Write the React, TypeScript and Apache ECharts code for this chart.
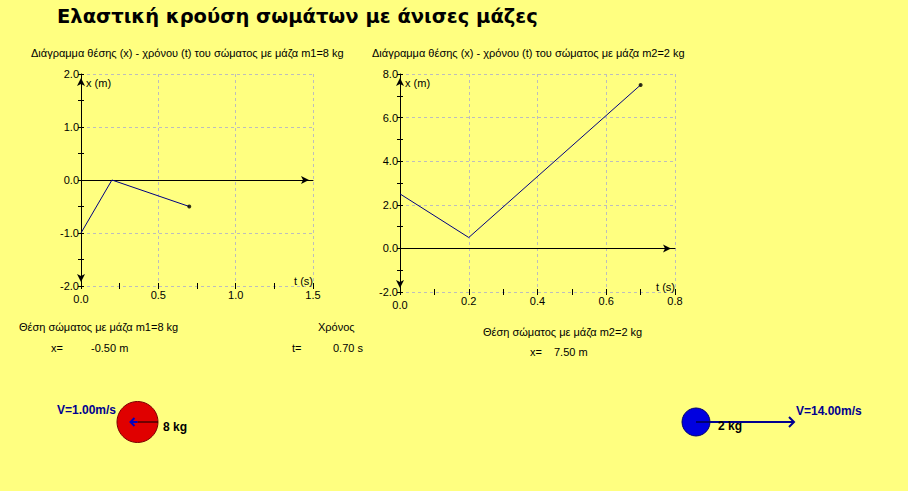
import React, { useEffect, useRef } from 'react';
import * as echarts from 'echarts';

// ---- data ----
const mainTitle = 'Ελαστική κρούση σωμάτων με άνισες μάζες';
const leftTitle = 'Διάγραμμα θέσης (x) - χρόνου (t) του σώματος με μάζα m1=8 kg';
const rightTitle = 'Διάγραμμα θέσης (x) - χρόνου (t) του σώματος με μάζα m2=2 kg';

const tLeft = [0, 0.2, 0.7];
const xLeft = [-1.0, 0.0, -0.5];
const tRight = [0, 0.2, 0.7];
const xRight = [2.5, 0.5, 7.5];

const leftXRange = [0, 1.5];
const leftXSteps = [0.5, 0.25];
const leftYRange = [-2, 2];
const leftYSteps = [1, 0.5];
const rightXRange = [0, 0.8];
const rightXSteps = [0.2, 0.1];
const rightYRange = [-2, 8];
const rightYSteps = [2, 1];

const m1 = 8;
const m2 = 2;
const v1 = -1.0;
const v2 = 14.0;
const pos1 = -0.5;
const pos2 = 7.5;
const tNow = 0.7;

const FONT = "'Liberation Sans', Arial, sans-serif";
const GRID_COLOR = '#bdbdbd';
const LINE_COLOR = '#000080';
const BG = '#FFFF80';

function xAxes(gridIndex: number, range: number[], steps: number[], yIdx: number) {
  const base = { gridIndex, type: 'value', position: 'bottom', min: range[0], max: range[1] };
  return [
    {
      ...base,
      interval: steps[0],
      axisLine: { show: false, onZero: false },
      axisTick: { show: false },
      axisLabel: {
        show: true,
        margin: 3,
        color: '#000',
        fontSize: 11,
        fontFamily: FONT,
        formatter: (v: number) => (Math.abs(v) < 1e-9 ? '{z|' + v.toFixed(1) + '}' : v.toFixed(1)),
        rich: { z: { fontSize: 11, fontFamily: FONT, color: '#000', padding: [4, 0, 0, 0] } },
      },
      splitLine: { show: true, lineStyle: { color: GRID_COLOR, type: [3, 3], width: 1 } },
    },
    {
      ...base,
      interval: steps[1],
      axisLine: { show: false, onZero: false },
      axisTick: { show: true, inside: false, length: 3, lineStyle: { color: '#000', width: 1 } },
      axisLabel: { show: false },
      splitLine: { show: false },
    },
    {
      ...base,
      interval: steps[1],
      axisLine: { show: false, onZero: false },
      axisTick: { show: true, inside: true, length: 3, lineStyle: { color: '#000', width: 1 } },
      axisLabel: { show: false },
      splitLine: { show: false },
    },
    {
      ...base,
      interval: steps[0],
      axisLine: {
        show: true,
        onZero: true,
        onZeroAxisIndex: yIdx,
        symbol: ['none', 'arrow'],
        symbolSize: [6, 8],
        symbolOffset: [0, -4],
        lineStyle: { color: '#000', width: 1 },
      },
      axisTick: { show: false },
      axisLabel: { show: false },
      splitLine: { show: false },
    },
  ];
}

function yAxes(gridIndex: number, range: number[], steps: number[]) {
  const base = { gridIndex, type: 'value', position: 'left', offset: 0, min: range[0], max: range[1] };
  return [
    {
      ...base,
      interval: steps[0],
      axisLine: {
        show: true,
        onZero: false,
        symbol: ['arrow', 'arrow'],
        symbolSize: [6, 8],
        symbolOffset: [4, -4],
        lineStyle: { color: '#000', width: 1 },
      },
      axisTick: { show: false },
      axisLabel: { show: true, margin: 2, color: '#000', fontSize: 11, fontFamily: FONT, formatter: (v: number) => v.toFixed(1) },
      splitLine: { show: true, lineStyle: { color: GRID_COLOR, type: [3, 3], width: 1 } },
    },
    {
      ...base,
      interval: steps[1],
      axisLine: { show: false, onZero: false },
      axisTick: { show: true, inside: false, length: 3, lineStyle: { color: '#000', width: 1 } },
      axisLabel: { show: false },
      splitLine: { show: false },
    },
    {
      ...base,
      interval: steps[1],
      axisLine: { show: false, onZero: false },
      axisTick: { show: true, inside: true, length: 3, lineStyle: { color: '#000', width: 1 } },
      axisLabel: { show: false },
      splitLine: { show: false },
    },
  ];
}

function txt(x: number, y: number, text: string, opts: any = {}) {
  return {
    type: 'text',
    x,
    y,
    z: 10,
    style: {
      text,
      fill: opts.fill || '#000',
      fontSize: opts.fontSize || 11,
      fontFamily: opts.fontFamily || FONT,
      fontWeight: opts.fontWeight || 'normal',
      align: opts.align || 'left',
      verticalAlign: 'middle',
    },
  };
}

export default function App() {
  const ref = useRef<HTMLDivElement>(null);
  useEffect(() => {
    if (!ref.current) return;
    const chart = echarts.init(ref.current, undefined, { renderer: 'svg' });

    const PX = 7; // pixels per m/s for velocity arrows
    const c1 = { x: 137.5, y: 422, r: 20.5 };
    const c2 = { x: 696, y: 422, r: 14 };
    const a1End = c1.x + v1 * PX;
    const a2End = c2.x + v2 * PX;

    const graphic: any[] = [
      txt(57, 16, mainTitle, { fontSize: 19.5, fontWeight: 'bold', fontFamily: "'DejaVu Sans', sans-serif" }),
      txt(31, 53, leftTitle),
      txt(372, 53, rightTitle),
      txt(86, 83, 'x (m)'),
      txt(405, 83, 'x (m)'),
      txt(313, 281, 't (s)', { align: 'right' }),
      txt(675, 287, 't (s)', { align: 'right' }),
      txt(19, 327, `Θέση σώματος με μάζα m1=${m1} kg`),
      txt(51, 348, 'x='),
      txt(91, 348, `${pos1.toFixed(2)} m`),
      txt(318, 327, 'Χρόνος'),
      txt(292, 348, 't='),
      txt(333, 348, `${tNow.toFixed(2)} s`),
      txt(483, 332, `Θέση σώματος με μάζα m2=${m2} kg`),
      txt(530, 352, 'x='),
      txt(554, 352, `${pos2.toFixed(2)} m`),
      { type: 'circle', z: 5, shape: { cx: c1.x, cy: c1.y, r: c1.r }, style: { fill: '#e00000', stroke: '#7a0000', lineWidth: 1 } },
      { type: 'circle', z: 5, shape: { cx: c2.x, cy: c2.y, r: c2.r }, style: { fill: '#0000e0', stroke: '#000070', lineWidth: 1 } },
      { type: 'line', z: 6, shape: { x1: c1.x, y1: c1.y, x2: c1.x + c1.r, y2: c1.y }, style: { stroke: '#000', lineWidth: 1 } },
      { type: 'line', z: 6, shape: { x1: c2.x, y1: c2.y, x2: c2.x + c2.r, y2: c2.y }, style: { stroke: '#000', lineWidth: 1 } },
      { type: 'line', z: 7, shape: { x1: c1.x, y1: c1.y, x2: a1End, y2: c1.y }, style: { stroke: '#0000c0', lineWidth: 2 } },
      { type: 'polyline', z: 7, shape: { points: [[a1End + 4, c1.y - 4], [a1End, c1.y], [a1End + 4, c1.y + 4]] }, style: { stroke: '#0000c0', lineWidth: 2, fill: null } },
      { type: 'line', z: 7, shape: { x1: c2.x + c2.r, y1: c2.y, x2: a2End, y2: c2.y }, style: { stroke: '#000090', lineWidth: 2 } },
      { type: 'polyline', z: 7, shape: { points: [[a2End - 5, c2.y - 5], [a2End, c2.y], [a2End - 5, c2.y + 5]] }, style: { stroke: '#000090', lineWidth: 2, fill: null } },
      txt(57, 410, `V=${Math.abs(v1).toFixed(2)}m/s`, { fontSize: 12, fontWeight: 'bold', fill: '#000090' }),
      txt(163, 427, `${m1} kg`, { fontSize: 12, fontWeight: 'bold' }),
      txt(796, 411, `V=${Math.abs(v2).toFixed(2)}m/s`, { fontSize: 12, fontWeight: 'bold', fill: '#000090' }),
      txt(718, 426, `${m2} kg`, { fontSize: 12, fontWeight: 'bold' }),
    ];

    const leftData = tLeft.map((t, i) => [t, xLeft[i]]);
    const rightData = tRight.map((t, i) => [t, xRight[i]]);

    chart.setOption({
      animation: false,
      backgroundColor: BG,
      textStyle: { fontFamily: FONT },
      grid: [
        { left: 81, top: 74, width: 232, height: 212 },
        { left: 400, top: 74, width: 275, height: 218 },
      ],
      xAxis: [...xAxes(0, leftXRange, leftXSteps, 0), ...xAxes(1, rightXRange, rightXSteps, 3)],
      yAxis: [...yAxes(0, leftYRange, leftYSteps), ...yAxes(1, rightYRange, rightYSteps)],
      series: [
        {
          type: 'line',
          xAxisIndex: 0,
          yAxisIndex: 0,
          data: leftData,
          showSymbol: false,
          lineStyle: { color: LINE_COLOR, width: 1 },
          z: 3,
        },
        {
          type: 'scatter',
          xAxisIndex: 0,
          yAxisIndex: 0,
          data: [leftData[leftData.length - 1]],
          symbolSize: 4,
          itemStyle: { color: '#000' },
          z: 4,
        },
        {
          type: 'line',
          xAxisIndex: 4,
          yAxisIndex: 3,
          data: rightData,
          showSymbol: false,
          lineStyle: { color: LINE_COLOR, width: 1 },
          z: 3,
        },
        {
          type: 'scatter',
          xAxisIndex: 4,
          yAxisIndex: 3,
          data: [rightData[rightData.length - 1]],
          symbolSize: 4,
          itemStyle: { color: '#000' },
          z: 4,
        },
      ],
      graphic,
    });
    return () => chart.dispose();
  }, []);

  return (
    <div
      ref={ref}
      style={{ position: 'absolute', left: 0, top: 0, width: 908, height: 491 }}
    />
  );
}
